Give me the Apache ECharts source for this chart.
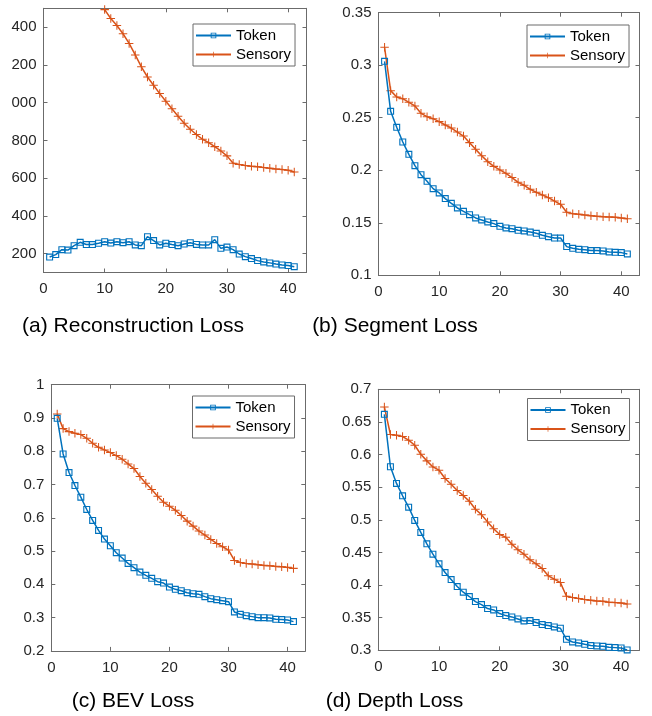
<!DOCTYPE html>
<html>
<head>
<meta charset="utf-8">
<script src="https://cdn.jsdelivr.net/npm/echarts@6/dist/echarts.min.js"></script>
<style>html,body{margin:0;padding:0;background:#fff}#c{width:652px;height:716px}</style>
</head>
<body>
<div id="c"></div>
<script>
const epochs = [1,2,3,4,5,6,7,8,9,10,11,12,13,14,15,16,17,18,19,20,21,22,23,24,25,26,27,28,29,30,31,32,33,34,35,36,37,38,39,40,41];
const xTicks = [0,10,20,30,40];

const reconToken = [182,195,221,219,242,260,248,248,255,263,256,263,258,263,246,242,290,269,246,255,248,242,251,258,249,246,246,274,228,235,221,198,184,174,163,156,151,145,140,137,131];
const reconSensory = [null,null,null,null,null,null,null,null,null,1493,1446,1409,1365,1314,1253,1190,1136,1092,1048,1007,968,928,891,859,831,806,788,767,744,718,679,672,667,663,660,656,653,649,646,642,633];
const reconTicks = [200,400,600,800,1000,1200,1400];
const reconTickLabels = ['200','400','600','800','000','200','400'];

const segToken = [0.3037,0.2561,0.2409,0.2269,0.2152,0.2044,0.1958,0.1895,0.1825,0.1784,0.1730,0.1685,0.1641,0.1609,0.1577,0.1546,0.1527,0.1508,0.1492,0.1466,0.1451,0.1444,0.1428,0.1422,0.1412,0.1400,0.1381,0.1368,0.1355,0.1355,0.1273,0.1257,0.1247,0.1244,0.1235,0.1235,0.1232,0.1222,0.1219,0.1216,0.1203];
const segSensory = [0.3170,0.2758,0.2697,0.2681,0.2647,0.2612,0.2542,0.2510,0.2491,0.2463,0.2431,0.2402,0.2364,0.2326,0.2263,0.2199,0.2139,0.2082,0.2037,0.2003,0.1971,0.1930,0.1885,0.1857,0.1819,0.1790,0.1765,0.1739,0.1707,0.1676,0.1600,0.1587,0.1581,0.1574,0.1568,0.1562,0.1558,0.1555,0.1552,0.1546,0.1539];
const segTicks = [0.1,0.15,0.2,0.25,0.3,0.35];

const bevToken = [0.899,0.792,0.736,0.697,0.662,0.625,0.592,0.562,0.536,0.516,0.495,0.479,0.463,0.450,0.437,0.427,0.418,0.408,0.404,0.392,0.385,0.381,0.375,0.372,0.370,0.363,0.357,0.354,0.351,0.348,0.317,0.310,0.306,0.303,0.300,0.300,0.299,0.295,0.294,0.293,0.288];
const bevSensory = [0.912,0.868,0.859,0.854,0.850,0.839,0.824,0.812,0.804,0.796,0.787,0.776,0.762,0.748,0.724,0.704,0.685,0.665,0.647,0.635,0.623,0.607,0.590,0.575,0.560,0.548,0.535,0.523,0.513,0.503,0.472,0.466,0.463,0.461,0.459,0.457,0.456,0.454,0.453,0.451,0.448];
const bevTicks = [0.2,0.3,0.4,0.5,0.6,0.7,0.8,0.9,1];

const depthToken = [0.6616,0.5813,0.5558,0.5368,0.5194,0.4990,0.4806,0.4632,0.4473,0.4325,0.4192,0.4084,0.3977,0.3890,0.3824,0.3747,0.3701,0.3639,0.3619,0.3563,0.3532,0.3512,0.3481,0.3450,0.3455,0.3425,0.3394,0.3379,0.3358,0.3338,0.3169,0.3128,0.3113,0.3092,0.3072,0.3066,0.3061,0.3046,0.3041,0.3036,0.3005];
const depthSensory = [0.6729,0.6307,0.6297,0.6276,0.6220,0.6143,0.6005,0.5903,0.5810,0.5760,0.5632,0.5545,0.5449,0.5371,0.5284,0.5161,0.5079,0.4968,0.4862,0.4775,0.4734,0.4627,0.4540,0.4473,0.4386,0.4325,0.4253,0.4141,0.4090,0.4038,0.3829,0.3808,0.3793,0.3777,0.3767,0.3757,0.3752,0.3737,0.3731,0.3726,0.3711];
const depthTicks = [0.3,0.35,0.4,0.45,0.5,0.55,0.6,0.65,0.7];

const titles = ['(a) Reconstruction Loss','(b) Segment Loss','(c) BEV Loss','(d) Depth Loss'];
const seriesNames = ['Token','Sensory'];

const BLUE = '#0072BD', RED = '#D95319';
const AXC = '#6b6b6b', TXC = '#262626';
const FONT = 'Liberation Sans, Arial, Helvetica, sans-serif';
const SQUARE = 'path://M0,0H10V10H0Z M1.6,1.6V8.4H8.4V1.6Z';
const PLUS = 'path://M4.4,0H5.6V4.4H10V5.6H5.6V10H4.4V5.6H0V4.4H4.4Z';

const panels = [
  {grid:{left:43.5, top:8.3, width:263, height:264.2}, ymin:100, ymax:1500, yt:reconTicks, fmt:(v)=>reconTickLabels[reconTicks.indexOf(v)], tok:reconToken, sen:reconSensory, leg:{left:193, top:24, w:101}},
  {grid:{left:378.5, top:12.7, width:261, height:262.6}, ymin:0.1, ymax:0.35, yt:segTicks, fmt:null, tok:segToken, sen:segSensory, leg:{left:527, top:25, w:101}},
  {grid:{left:51.3, top:384.7, width:254, height:266.2}, ymin:0.2, ymax:1, yt:bevTicks, fmt:null, tok:bevToken, sen:bevSensory, leg:{left:192.5, top:396, w:101}},
  {grid:{left:378.3, top:389.3, width:261, height:261}, ymin:0.3, ymax:0.7, yt:depthTicks, fmt:null, tok:depthToken, sen:depthSensory, leg:{left:527.5, top:398.5, w:101}}
];

const grid = [], xAxis = [], yAxis = [], series = [], legend = [];
panels.forEach((p, i) => {
  grid.push(Object.assign({containLabel:false}, p.grid));
  const tickStyle = {show:true, inside:true, length:4, lineStyle:{color:AXC, width:1}};
  const lineStyle = {show:true, onZero:false, lineStyle:{color:AXC, width:1}};
  xAxis.push({type:'value', gridIndex:i, min:0, max:43, position:'bottom',
    axisLine:lineStyle, axisTick:Object.assign({customValues:xTicks}, tickStyle),
    axisLabel:{customValues:xTicks, color:TXC, fontSize:15, fontFamily:FONT, margin:9},
    splitLine:{show:false}});
  xAxis.push({type:'value', gridIndex:i, min:0, max:43, position:'top',
    axisLine:lineStyle, axisTick:Object.assign({customValues:xTicks}, tickStyle),
    axisLabel:{show:false}, splitLine:{show:false}});
  const lab = {customValues:p.yt, color:TXC, fontSize:15, fontFamily:FONT, margin:7};
  if (p.fmt) lab.formatter = p.fmt;
  yAxis.push({type:'value', gridIndex:i, min:p.ymin, max:p.ymax, position:'left',
    axisLine:lineStyle, axisTick:Object.assign({customValues:p.yt}, tickStyle),
    axisLabel:lab, splitLine:{show:false}});
  yAxis.push({type:'value', gridIndex:i, min:p.ymin, max:p.ymax, position:'right',
    axisLine:lineStyle, axisTick:Object.assign({customValues:p.yt}, tickStyle),
    axisLabel:{show:false}, splitLine:{show:false}});
  series.push({name:seriesNames[0], type:'line', xAxisIndex:2*i, yAxisIndex:2*i,
    data:epochs.map((e,k)=>[e,p.tok[k]]), symbol:SQUARE, symbolSize:7, showAllSymbol:true,
    lineStyle:{color:BLUE, width:1.5}, itemStyle:{color:BLUE}, animation:false, clip:true, z:3});
  series.push({name:seriesNames[1], type:'line', xAxisIndex:2*i, yAxisIndex:2*i,
    data:epochs.map((e,k)=>[e,p.sen[k]]), symbol:PLUS, symbolSize:8.5, showAllSymbol:true,
    lineStyle:{color:RED, width:1.5}, itemStyle:{color:RED}, animation:false, clip:true, z:2});
  legend.push({data:seriesNames, orient:'vertical', left:p.leg.left, top:p.leg.top, width:p.leg.w,
    itemWidth:35, itemHeight:7, itemGap:2, padding:[3,4,3,2], selectedMode:false,
    backgroundColor:'#fff', borderColor:AXC, borderWidth:1, borderRadius:0,
    textStyle:{color:'#000', fontSize:15, fontFamily:FONT, lineHeight:17}});
});

const titlePos = [[133,326.7],[395,326.7],[133,701.7],[394.5,701.7]];
const graphic = titles.map((t,i)=>({type:'text', x:titlePos[i][0], y:titlePos[i][1],
  style:{text:t, fill:'#000', font:'21px ' + FONT, textAlign:'center', textVerticalAlign:'middle'}}));

const chart = echarts.init(document.getElementById('c'), null, {renderer:'canvas'});
chart.setOption({animation:false, backgroundColor:'#fff', grid, xAxis, yAxis, series, legend, graphic});
</script>
</body>
</html>
